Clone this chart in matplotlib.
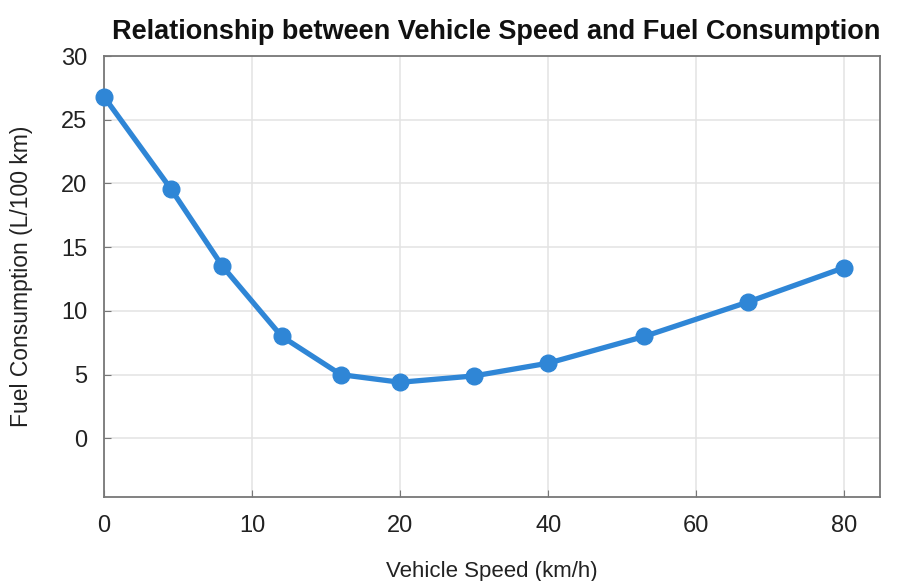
import numpy as np
import matplotlib
matplotlib.use("Agg")
import matplotlib.pyplot as plt

plt.rcParams['font.family'] = ['Liberation Sans', 'DejaVu Sans']

# data
speed = [0, 4.5, 8, 12, 16, 20, 30, 40, 53, 67, 80]
fuel = [26.8, 19.6, 13.5, 8.0, 5.0, 4.4, 4.9, 5.9, 8.0, 10.7, 13.4]
x_ticks = [0, 10, 20, 40, 60, 80]
y_ticks = [0, 5, 10, 15, 20, 25, 30]

# the x axis puts its ticks at equal steps, so map speed piecewise
tick_pos = np.arange(len(x_ticks))


def fwd(v):
    v = np.asarray(v, dtype=float)
    return np.interp(v, x_ticks, tick_pos) + \
        np.where(v > x_ticks[-1], (v - x_ticks[-1]) / 20.0, 0) + \
        np.where(v < x_ticks[0], (v - x_ticks[0]) / 10.0, 0)


def inv(p):
    p = np.asarray(p, dtype=float)
    return np.interp(p, tick_pos, x_ticks) + \
        np.where(p > tick_pos[-1], (p - tick_pos[-1]) * 20.0, 0) + \
        np.where(p < tick_pos[0], (p - tick_pos[0]) * 10.0, 0)


blue = '#2F86D6'

fig = plt.figure(figsize=(9, 5.81), dpi=100)
ax = fig.add_axes([0.1156, 0.1446, 0.862, 0.759])
ax.set_xscale('function', functions=(fwd, inv))

ax.plot(speed, fuel, color=blue, lw=3.8, marker='o', ms=12,
        solid_capstyle='round', zorder=3, clip_on=False)

ax.set_xlim(0, 84.8)
ax.set_ylim(-4.6, 30)
ax.set_xticks(x_ticks)
ax.set_xticklabels([str(t) for t in x_ticks])
ax.set_yticks(y_ticks)
ax.minorticks_off()

ax.grid(True, color='#e3e3e3', lw=1.1)
ax.set_axisbelow(True)
for s in ax.spines.values():
    s.set_color('#777777')
    s.set_linewidth(1.3)

ax.tick_params(direction='in', length=5, color='#777777', labelsize=17,
               labelcolor='#222222', pad=12)
ax.tick_params(axis='x', pad=13)

ax.set_title('Relationship between Vehicle Speed and Fuel Consumption',
             fontsize=19.5, fontweight='bold', color='#111111', pad=12, x=0.505)
ax.set_xlabel('Vehicle Speed (km/h)', fontsize=16, color='#222222', labelpad=17)
ax.set_ylabel('Fuel Consumption (L/100 km)', fontsize=16.5, color='#222222', labelpad=20)

fig.savefig('out.png', dpi=100, facecolor='white')
